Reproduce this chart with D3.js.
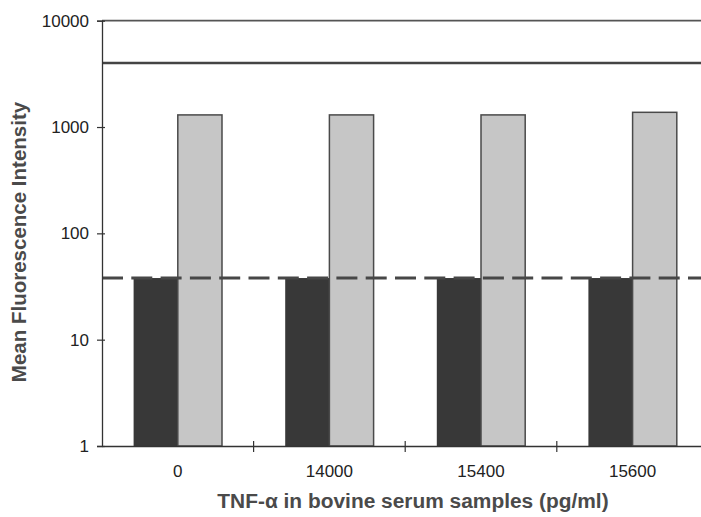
<!DOCTYPE html>
<html>
<head>
<meta charset="utf-8">
<script src="https://cdn.jsdelivr.net/npm/d3@7"></script>
<style>
  html, body { margin: 0; padding: 0; background: #fff; }
  svg { display: block; }
  text { font-family: Arial, "Liberation Sans", sans-serif; }
</style>
</head>
<body>
<svg id="chart" width="701" height="517"></svg>
<script>
// ---- data ----
const categories = ["0", "14000", "15400", "15600"];
const seriesNames = ["sample", "control"];
const sampleValues = [38, 38, 38, 38];
const controlValues = [1300, 1300, 1300, 1375];
const yTickValues = [1, 10, 100, 1000, 10000];
const cutoffValue = 38;      // dashed line
const upperLimitValue = 4000; // solid line
const xTitle = "TNF-\u03B1 in bovine serum samples (pg/ml)";
const yTitle = "Mean Fluorescence Intensity";

// ---- layout ----
const svg = d3.select("#chart");
const mLeft = 102, mRight = 708.4, mTop = 20.7, mBottom = 446;

const y = d3.scaleLog().domain([1, 10000]).range([mBottom, mTop]);
const x0 = d3.scaleBand().domain(categories).range([mLeft, mRight]).padding(0);
const x1 = d3.scaleBand().domain(seriesNames).range([0, x0.bandwidth()])
  .paddingInner(0).paddingOuter(0.715);

const rows = categories.map((c, i) => ({
  cat: c,
  vals: [
    { s: "sample", v: sampleValues[i] },
    { s: "control", v: controlValues[i] }
  ]
}));

const fills = { sample: "#383838", control: "#c6c6c6" };

// bars
const g = svg.append("g");
g.selectAll("g.grp").data(rows).join("g")
  .attr("class", "grp")
  .attr("transform", d => `translate(${x0(d.cat)},0)`)
  .selectAll("rect").data(d => d.vals).join("rect")
  .attr("x", d => x1(d.s))
  .attr("width", x1.bandwidth())
  .attr("y", d => y(d.v))
  .attr("height", d => y(1) - y(d.v))
  .attr("fill", d => fills[d.s])
  .attr("stroke", d => d.s === "control" ? "#4a4a4a" : "none")
  .attr("stroke-width", 1.5);

// top line (10000) and upper limit line
svg.append("line")
  .attr("x1", mLeft).attr("x2", 701)
  .attr("y1", y(10000)).attr("y2", y(10000))
  .attr("stroke", "#555").attr("stroke-width", 1.8);
svg.append("line")
  .attr("x1", mLeft).attr("x2", 701)
  .attr("y1", y(upperLimitValue)).attr("y2", y(upperLimitValue))
  .attr("stroke", "#444").attr("stroke-width", 2.4);

// dashed cutoff line
svg.append("line")
  .attr("x1", mLeft).attr("x2", 701)
  .attr("y1", y(cutoffValue)).attr("y2", y(cutoffValue))
  .attr("stroke", "#474747").attr("stroke-width", 3)
  .attr("stroke-dasharray", "21,8.3");

// y axis
const yAxis = d3.axisLeft(y).tickValues(yTickValues)
  .tickFormat(d3.format("d")).tickSize(5).tickPadding(8);
const yg = svg.append("g").attr("transform", `translate(${mLeft},0)`).call(yAxis);
yg.select(".domain").attr("stroke", "#333").attr("stroke-width", 1.3);
yg.selectAll(".tick line").attr("x1", 3).attr("x2", -5).attr("stroke", "#333").attr("stroke-width", 1.2);
yg.selectAll(".tick text").attr("font-size", 17).attr("fill", "#222")
  .attr("font-family", "Arial, 'Liberation Sans', sans-serif");

// x axis
const xAxis = d3.axisBottom(x0).tickSize(0).tickPadding(19);
const xg = svg.append("g").attr("transform", `translate(0,${mBottom})`).call(xAxis);
xg.select(".domain").attr("stroke", "#333").attr("stroke-width", 1.3);
xg.selectAll(".tick text").attr("font-size", 17).attr("fill", "#222")
  .attr("font-family", "Arial, 'Liberation Sans', sans-serif");
// boundary ticks between categories
xg.selectAll("line.bt").data(categories.slice(0, -1)).join("line")
  .attr("class", "bt")
  .attr("x1", d => x0(d) + x0.step()).attr("x2", d => x0(d) + x0.step())
  .attr("y1", -5).attr("y2", 6)
  .attr("stroke", "#333").attr("stroke-width", 1.2);

// titles
svg.append("text")
  .attr("x", 413).attr("y", 508)
  .attr("text-anchor", "middle")
  .attr("font-size", 20.9).attr("font-weight", "bold").attr("fill", "#4a4a4a")
  .text(xTitle);

svg.append("text")
  .attr("transform", `translate(26,242) rotate(-90)`)
  .attr("text-anchor", "middle")
  .attr("font-size", 20.5).attr("font-weight", "bold").attr("fill", "#4a4a4a")
  .text(yTitle);
</script>
</body>
</html>
